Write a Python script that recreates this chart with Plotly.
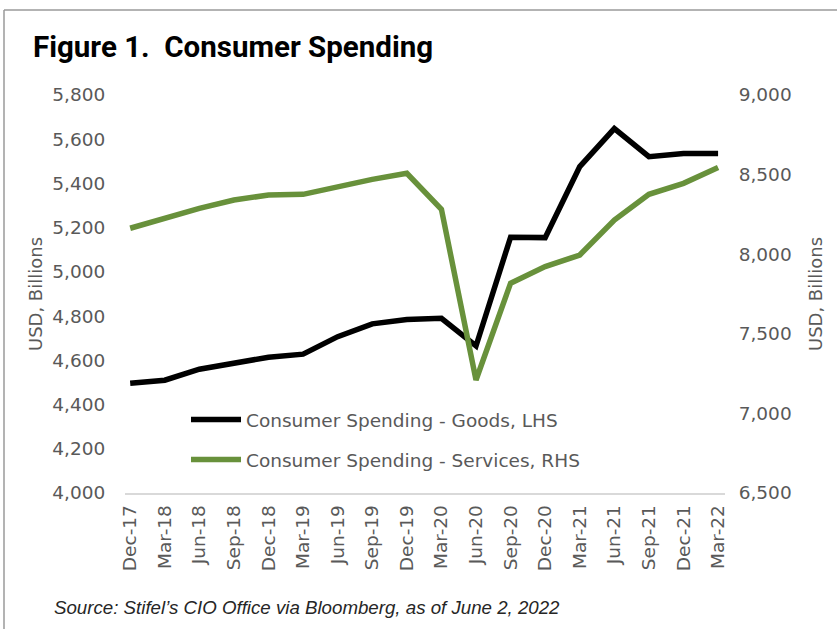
import plotly.graph_objects as go

quarters = ["Dec-17", "Mar-18", "Jun-18", "Sep-18", "Dec-18", "Mar-19", "Jun-19",
            "Sep-19", "Dec-19", "Mar-20", "Jun-20", "Sep-20", "Dec-20", "Mar-21",
            "Jun-21", "Sep-21", "Dec-21", "Mar-22"]
goods = [4496, 4510, 4560, 4590, 4614, 4628, 4707, 4765, 4785, 4790, 4665,
         5157, 5155, 5476, 5648, 5521, 5535, 5535]
services = [8163, 8225, 8288, 8340, 8372, 8376, 8424, 8470, 8508, 8282, 7210,
            7818, 7922, 7995, 8215, 8376, 8445, 8544]
left_ticks = list(range(4000, 5801, 200))
right_ticks = list(range(6500, 9001, 500))

GREY = "#595959"
GREEN = "#68913B"
FONT = "DejaVu Sans, sans-serif"
FS = 18.5

fig = go.Figure()
fig.add_trace(go.Scatter(x=quarters, y=goods, mode="lines",
                         name="Consumer Spending - Goods, LHS",
                         line=dict(color="#000000", width=5.5),
                         legendgroup="g"))
fig.add_trace(go.Scatter(x=quarters, y=services, mode="lines",
                         name="Consumer Spending - Services, RHS",
                         line=dict(color=GREEN, width=5.5),
                         yaxis="y2", legendgroup="s"))

L, R, T, B = 125, 112, 95, 136
W, H = 837, 629
pw, ph = W - L - R, H - T - B

def px(x):
    return (x - L) / pw

def py(y):
    return (H - B - y) / ph

fig.update_layout(
    width=W, height=H,
    margin=dict(l=L, r=R, t=T, b=B),
    paper_bgcolor="white", plot_bgcolor="white",
    font=dict(family=FONT, size=FS, color=GREY),
    showlegend=True,
    legend=dict(x=px(186), y=py(401), xanchor="left", yanchor="top",
                bgcolor="rgba(0,0,0,0)", tracegroupgap=13,
                font=dict(size=FS, color=GREY), itemwidth=50),
    title=dict(text="<b>Figure 1.  Consumer Spending</b>",
               x=33 / W, xref="container", xanchor="left",
               y=1 - 47 / H, yref="container", yanchor="middle",
               font=dict(family="Liberation Sans Narrow, Roboto, sans-serif",
                         size=29.5, color="#000000")),
    xaxis=dict(type="category", categoryorder="array", categoryarray=quarters,
               range=[-0.15, 17.2], tickangle=-90, showgrid=False,
               showline=True, linecolor="#d9d9d9", linewidth=1.5,
               ticks="outside", ticklen=3, tickcolor="rgba(0,0,0,0)",
               tickfont=dict(size=FS, color=GREY), zeroline=False),
    yaxis=dict(range=[4000, 5800], tickvals=left_ticks,
               ticktext=[f"{v:,}" for v in left_ticks], showgrid=False,
               zeroline=False, showline=False, ticks="outside", ticklen=15,
               tickcolor="rgba(0,0,0,0)",
               tickfont=dict(size=FS, color=GREY),
               title=dict(text="USD, Billions", font=dict(size=18, color=GREY),
                          standoff=5)),
    yaxis2=dict(range=[6500, 9000], tickvals=right_ticks,
                ticktext=[f"{v:,}" for v in right_ticks], overlaying="y",
                side="right", showgrid=False, zeroline=False, showline=False,
                ticks="outside", ticklen=9, tickcolor="rgba(0,0,0,0)",
                tickfont=dict(size=FS, color=GREY),
                title=dict(text="USD, Billions", font=dict(size=18, color=GREY),
                           standoff=18)),
)

fig.add_annotation(text="<i>Source: Stifel’s CIO Office via Bloomberg, as of June 2, 2022</i>",
                   xref="paper", yref="paper", x=px(52), y=py(607),
                   xanchor="left", yanchor="middle", showarrow=False,
                   font=dict(family="Liberation Sans Narrow, Liberation Sans, sans-serif",
                             size=18.7, color="#262626"))

# chart frame (top and left)
fig.add_shape(type="line", xref="paper", yref="paper",
              x0=px(4), x1=px(W + 5), y0=py(10), y1=py(10),
              line=dict(color="#9a9a9a", width=1.5))
fig.add_shape(type="line", xref="paper", yref="paper",
              x0=px(4), x1=px(4), y0=py(10), y1=py(H + 5),
              line=dict(color="#9a9a9a", width=1.5))

fig.write_html("out.html")
